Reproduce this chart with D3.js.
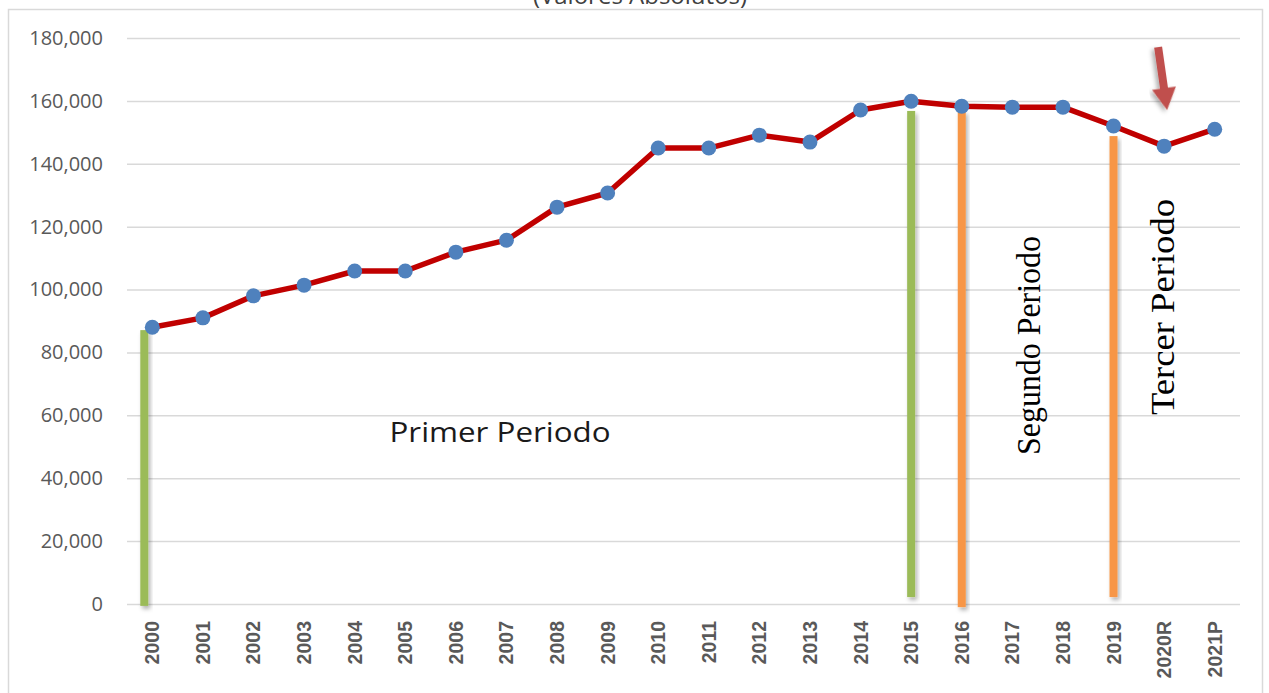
<!DOCTYPE html>
<html>
<head>
<meta charset="utf-8">
<script src="https://cdn.jsdelivr.net/npm/d3@7"></script>
<style>
  html, body { margin: 0; padding: 0; background: #ffffff; }
  svg { display: block; }
</style>
</head>
<body>
<svg id="chart" width="1269" height="693"></svg>
<script>
// ---- data ----
const categories = ["2000","2001","2002","2003","2004","2005","2006","2007","2008","2009","2010",
  "2011","2012","2013","2014","2015","2016","2017","2018","2019","2020R","2021P"];
const values = [88000, 91000, 98000, 101400, 105900, 105900, 111900, 115700, 126200, 130700, 145000,
  145000, 149100, 146900, 157100, 159900, 158300, 158000, 158000, 152000, 145600, 151000];
const yTicks = [0, 20000, 40000, 60000, 80000, 100000, 120000, 140000, 160000, 180000];
const title = "(Valores Absolutos)";
// period marker bars: category, top value, bottom value, colour
const markerCats = ["2000", "2015", "2016", "2019"];
const markerTop = [87100, 156800, 156800, 148800];
const markerBottom = [-600, 2200, -1000, 2200];
const markerColors = ["#9bbb59", "#9bbb59", "#f79646", "#f79646"];
const markerShift = [-8, 0, 0, 0];
// period labels
const periodLabels = ["Primer Periodo", "Segundo Periodo", "Tercer Periodo"];
// arrow annotation (category, from value, to value)
const arrowCat = "2020R";
const arrowFrom = 177100, arrowTo = 157100;

// ---- layout ----
const svg = d3.select("#chart");
const x = d3.scaleBand().domain(categories).range([127, 1240]).padding(0);
const y = d3.scaleLinear().domain([0, 180000]).range([604, 38]);
const cx = c => x(c) + x.bandwidth() / 2;

const defs = svg.append("defs");
const f = defs.append("filter").attr("id", "shadow").attr("x", "-50%").attr("y", "-10%").attr("width", "200%").attr("height", "120%");
f.append("feDropShadow").attr("dx", 2).attr("dy", 3).attr("stdDeviation", 2).attr("flood-color", "#000").attr("flood-opacity", 0.3);

// frame
svg.append("rect").attr("x", 8.5).attr("y", 9.5).attr("width", 1254).attr("height", 700)
  .attr("fill", "none").attr("stroke", "#d9d9d9").attr("stroke-width", 1.5);

// title (cut at top, as in the reference)
svg.append("text").attr("x", 640).attr("y", 4).attr("text-anchor", "middle")
  .attr("font-family", "Open Sans").attr("font-size", 24).attr("fill", "#404040").text(title);

// grid + y axis
const yAxis = d3.axisLeft(y).tickValues(yTicks).tickSize(-(1240 - 127)).tickPadding(24)
  .tickFormat(d3.format(","));
const gy = svg.append("g").attr("transform", "translate(127,0)").call(yAxis);
gy.select(".domain").remove();
gy.selectAll(".tick line").attr("stroke", "#d9d9d9").attr("stroke-width", 1.5);
gy.selectAll(".tick text").attr("font-family", "Open Sans").attr("font-size", 20).attr("fill", "#595959");

// x axis labels
const xAxis = d3.axisBottom(x).tickSize(0).tickPadding(0);
const gx = svg.append("g").attr("transform", "translate(0,604)").call(xAxis);
gx.select(".domain").remove();
gx.selectAll(".tick text")
  .attr("font-family", "Liberation Sans, Arial, sans-serif").attr("font-weight", "bold")
  .attr("font-size", 19.5).attr("fill", "#595959")
  .attr("text-anchor", "end").attr("dy", null)
  .attr("transform", "translate(7,17) rotate(-90)");

// period marker bars
svg.append("g").selectAll("rect").data(markerCats).join("rect")
  .attr("x", (c, i) => cx(c) + markerShift[i] - 4)
  .attr("width", 8)
  .attr("y", (c, i) => y(markerTop[i]))
  .attr("height", (c, i) => y(markerBottom[i]) - y(markerTop[i]))
  .attr("fill", (c, i) => markerColors[i])
  .attr("filter", "url(#shadow)");

// line
const line = d3.line().x((d, i) => cx(categories[i])).y(d => y(d));
svg.append("path").datum(values).attr("d", line)
  .attr("fill", "none").attr("stroke", "#c00000").attr("stroke-width", 5.5).attr("stroke-linejoin", "round");

// points
svg.append("g").selectAll("circle").data(values).join("circle")
  .attr("cx", (d, i) => cx(categories[i])).attr("cy", d => y(d)).attr("r", 7.5)
  .attr("fill", "#4f81bd");

// arrow annotation
{
  const x0 = cx(arrowCat) - 6, y0 = y(arrowFrom);
  const x1 = cx(arrowCat) + 3, y1 = y(arrowTo);
  const ang = Math.atan2(y1 - y0, x1 - x0);
  const len = Math.hypot(x1 - x0, y1 - y0);
  const headL = 22, shaftW = 8, headW = 24;
  const p = d3.path();
  p.moveTo(0, -shaftW / 2); p.lineTo(len - headL, -shaftW / 2); p.lineTo(len - headL, -headW / 2);
  p.lineTo(len, 0); p.lineTo(len - headL, headW / 2); p.lineTo(len - headL, shaftW / 2);
  p.lineTo(0, shaftW / 2); p.closePath();
  svg.append("path").attr("d", p.toString())
    .attr("transform", `translate(${x0},${y0}) rotate(${ang * 180 / Math.PI})`)
    .attr("fill", "#c0504d").attr("filter", "url(#shadow)");
}

// period labels
svg.append("text").attr("x", 500).attr("y", 442).attr("text-anchor", "middle")
  .attr("font-family", "Open Sans").attr("font-size", 27).attr("fill", "#1a1a1a")
  .attr("textLength", 221).attr("lengthAdjust", "spacingAndGlyphs")
  .text(periodLabels[0]);
svg.append("text").attr("transform", "translate(1040,345.5) rotate(-90)").attr("text-anchor", "middle")
  .attr("font-family", "Liberation Serif, Times New Roman, serif").attr("font-size", 33).attr("fill", "#000")
  .attr("textLength", 219).attr("lengthAdjust", "spacingAndGlyphs")
  .text(periodLabels[1]);
svg.append("text").attr("transform", "translate(1174,307) rotate(-90)").attr("text-anchor", "middle")
  .attr("font-family", "Liberation Serif, Times New Roman, serif").attr("font-size", 33).attr("fill", "#000")
  .attr("textLength", 216).attr("lengthAdjust", "spacingAndGlyphs")
  .text(periodLabels[2]);
</script>
</body>
</html>
